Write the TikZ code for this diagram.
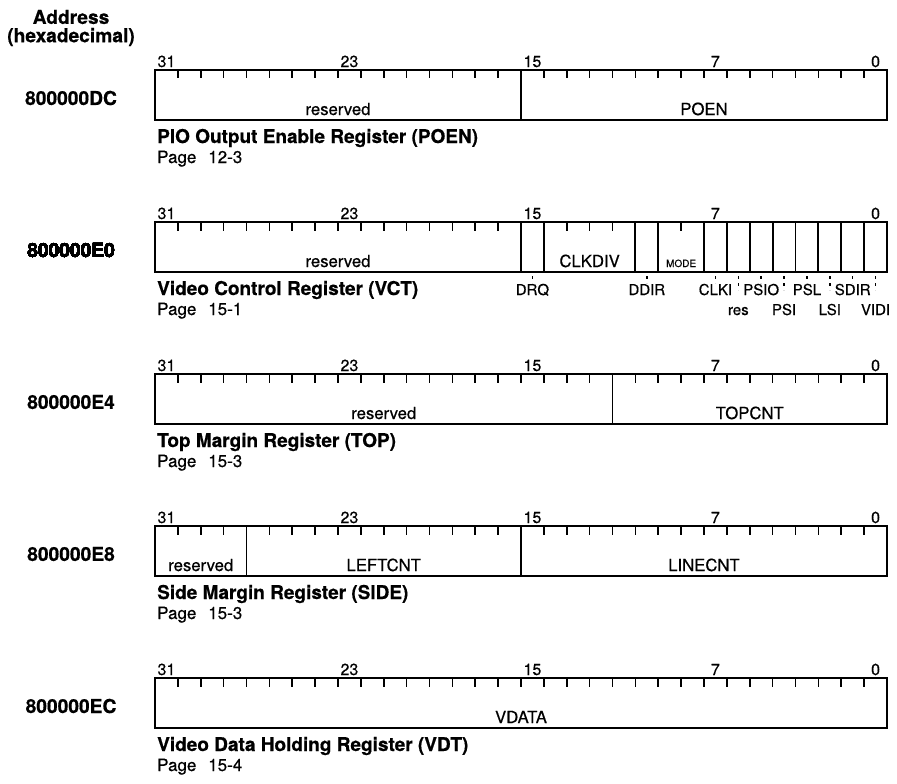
\documentclass[tikz,border=0pt]{standalone}
\usepackage{fontspec}
\setmainfont[FakeBold=0.5]{TeX Gyre Heros}
\usetikzlibrary{positioning, calc}
\tikzset{
	regline/.style={line width=1.8pt},
	tickline/.style={line width=1.6pt},
	leader/.style={line width=1.5pt, dash pattern=on 3pt off 4pt}
}
\tikzset{
	bitnum/.style={font=\fontsize{16}{16}\selectfont, inner sep=0pt, anchor=base},
	fieldtext/.style={font=\fontsize{16.7}{16.7}\selectfont, inner sep=0pt, anchor=base},
	smallfield/.style={font=\fontsize{10}{10}\selectfont, inner sep=0pt, anchor=base},
	bitname/.style={font=\fontsize{15}{15}\selectfont, inner sep=0pt, anchor=base},
	addrtext/.style={font=\fontsize{19.2}{19.2}\selectfont\bfseries, inner sep=0pt},
	regtitle/.style={font=\fontsize{19}{19}\selectfont\bfseries, inner sep=0pt, anchor=base west},
	pagetext/.style={font=\fontsize{17}{17}\selectfont, inner sep=0pt, anchor=base west}
}
% x of a bit boundary, counted from the left edge (bit 31)
\newcommand{\bx}[1]{155+#1*22.875}
% outline, ticks and bit numbers of one 32-bit register; #1 = top y, #2 = name
\newcommand{\regframe}[2]{%
  \draw[regline] (155,#1) rectangle (887,#1+50);
  \foreach \k in {1,...,31} \draw[tickline] ({\bx{\k}},#1) -- ++(0,8.5);
  \foreach \c/\n in {0.5/31, 8.5/23, 16.5/15, 24.5/7, 31.5/0}
    \node[bitnum] (#2-n\n) at ({\bx{\c}},#1-3) {\n};
}
\newcommand{\divider}[2]{\draw[regline] ({\bx{#2}},#1) -- ++(0,50);}

\begin{document}
\begin{tikzpicture}[x=1pt, y=-1pt]
      \useasboundingbox (0,0) rectangle (897,784);
      \node[addrtext] (head-a) at (71,17) {Address};
      \node[addrtext] (head-b) at (71,37) {(hexadecimal)};

      % PIO output enable
      \regframe{70}{poen}
      \divider{70}{16}
      \node[addrtext] (poen-addr) at (71,98) {800000DC};
      \node[fieldtext] (poen-res) at ({\bx{8}},115) {reserved};
      \node[fieldtext] (poen-fld) at ({\bx{24}},115) {POEN};
      \node[regtitle] (poen-title) at (157,143) {PIO Output Enable Register (POEN)};
      \node[pagetext] (poen-page) at (157,163) {Page\hspace{0.7em}12-3};

      % video control
      \regframe{222}{vct}
      \foreach \k in {16,17,21,22,24,25,...,31} \divider{222}{\k}
      \node[addrtext] (vct-addr) at (71,250) {800000E0};
      \node[fieldtext] (vct-res) at ({\bx{8}},267) {reserved};
      \node[fieldtext] (vct-clkdiv) at ({\bx{19}},267) {CLKDIV};
      \node[smallfield] (vct-mode) at ({\bx{23}},267) {MODE};
      \foreach \c/\txt/\row in {16.5/DRQ/0, 21.5/DDIR/0, 24.5/CLKI/0, 25.5/res/1,
          26.5/PSIO/0, 27.5/PSI/1, 28.5/PSL/0, 29.5/LSI/1, 30.5/SDIR/0, 31.5/VIDI/1} {
        \coordinate (vct-\txt-a) at ({\bx{\c}},276);
        \coordinate (vct-\txt-b) at ({\bx{\c}},{283+7*\row});
        \draw[leader] (vct-\txt-a) -- (vct-\txt-b);
        \node[bitname] (vct-\txt) at ({\bx{\c}},{295+20*\row}) {\txt};
      }
      \node[regtitle] (vct-title) at (157,295) {Video Control Register (VCT)};
      \node[pagetext] (vct-page) at (157,315) {Page\hspace{0.7em}15-1};

      % top margin
      \regframe{374}{top}
      \divider{374}{20}
      \node[addrtext] (top-addr) at (71,402) {800000E4};
      \node[fieldtext] (top-res) at ({\bx{10}},419) {reserved};
      \node[fieldtext] (top-fld) at ({\bx{26}},419) {TOPCNT};
      \node[regtitle] (top-title) at (157,447) {Top Margin Register (TOP)};
      \node[pagetext] (top-page) at (157,467) {Page\hspace{0.7em}15-3};

      % side margin
      \regframe{526}{side}
      \divider{526}{4}
      \divider{526}{16}
      \node[addrtext] (side-addr) at (71,554) {800000E8};
      \node[fieldtext] (side-res) at ({\bx{2}},571) {reserved};
      \node[fieldtext] (side-left) at ({\bx{10}},571) {LEFTCNT};
      \node[fieldtext] (side-line) at ({\bx{24}},571) {LINECNT};
      \node[regtitle] (side-title) at (157,599) {Side Margin Register (SIDE)};
      \node[pagetext] (side-page) at (157,619) {Page\hspace{0.7em}15-3};

      % video data holding
      \regframe{678}{vdt}
      \node[addrtext] (vdt-addr) at (71,706) {800000EC};
      \node[fieldtext] (vdt-fld) at ({\bx{16}},723) {VDATA};
      \node[regtitle] (vdt-title) at (157,751) {Video Data Holding Register (VDT)};
      \node[pagetext] (vdt-page) at (157,771) {Page\hspace{0.7em}15-4};
    \end{tikzpicture}
\end{document}
